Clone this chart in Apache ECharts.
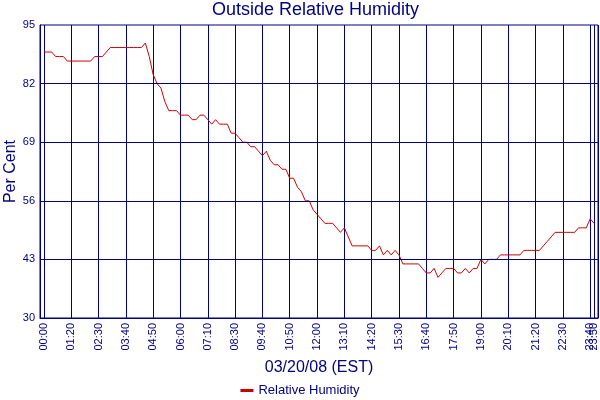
<!DOCTYPE html>
<html>
<head>
    <meta charset="UTF-8">
    <script src="https://cdn.jsdelivr.net/npm/echarts@6/dist/echarts.min.js"></script>
    <style>
        html, body { margin: 0; padding: 0; background: #fff; }
    </style>
</head>
<body>
<div id="main" style="width: 600px;height:400px;"></div>
<script>
    // labelled times, one every 7 samples, then the two extra end labels
    var tickTimes = ['00:00', '01:20', '02:30', '03:40', '04:50', '06:00', '07:10', '08:30',
        '09:40', '10:50', '12:00', '13:10', '14:20', '15:30', '16:40', '17:50',
        '19:00', '20:10', '21:20', '22:30', '23:40'];
    var endTimes = ['23:50', '23:59'];
    var samplesPerTick = 7;

    var yTicks = [30, 43, 56, 69, 82, 95];

    // relative humidity (%), one value per sample from 00:00 to 23:50
    var humidity = [
        89, 89, 89, 88, 88, 88, 87, 87, 87, 87, 87, 87, 87, 88, 88, 88,
        89, 90, 90, 90, 90, 90, 90, 90, 90, 90, 91, 88, 84, 82, 81, 78,
        76, 76, 76, 75, 75, 75, 74, 74, 75, 75, 74, 73, 74, 73, 73, 73,
        71, 71, 70, 69, 69, 68, 68, 67, 66, 67, 65, 64, 64, 63, 63, 61,
        61, 59, 58, 56, 56, 54, 53, 52, 51, 51, 51, 50, 49, 50, 48, 46,
        46, 46, 46, 46, 45, 45, 46, 44, 45, 44, 45, 44, 42, 42, 42, 42,
        42, 41, 40, 40, 41, 39, 40, 41, 41, 41, 40, 40, 41, 40, 41, 41,
        43, 42, 43, 43, 43, 44, 44, 44, 44, 44, 44, 45, 45, 45, 45, 45,
        46, 47, 48, 49, 49, 49, 49, 49, 49, 50, 50, 50, 52, 51
    ];

    // category list: a blank slot before 00:00, then every sample
    var categories = [''];
    for (var i = 0; i <= (tickTimes.length - 1) * samplesPerTick; i++) {
        categories.push(i % samplesPerTick === 0 ? tickTimes[i / samplesPerTick] : '');
    }
    categories = categories.concat(endTimes);

    var seriesData = [null].concat(humidity);

    var navy = '#000080';
    var showTick = function (index, value) {
        return value !== '';
    };

    var myChart = echarts.init(document.getElementById('main'));
    var option = {
        animation: false,
        textStyle: {fontFamily: 'Liberation Sans'},
        title: {
            text: 'Outside Relative Humidity',
            left: 212,
            top: 1,
            padding: 0,
            textStyle: {color: navy, fontSize: 18, fontWeight: 'normal', fontFamily: 'Liberation Sans'}
        },
        legend: {
            bottom: 3,
            left: 'center',
            padding: 0,
            icon: 'rect',
            itemWidth: 13,
            itemHeight: 3,
            itemGap: 4,
            textStyle: {color: navy, fontSize: 13, fontFamily: 'Liberation Sans'},
            data: ['Relative Humidity']
        },
        grid: {
            left: 40,
            right: 2,
            top: 25,
            bottom: 82,
            outerBoundsMode: 'none',
            show: true,
            borderColor: navy,
            borderWidth: 1
        },
        xAxis: {
            type: 'category',
            boundaryGap: false,
            data: categories,
            name: '03/20/08 (EST)',
            nameLocation: 'middle',
            nameGap: 42,
            nameTextStyle: {color: navy, fontSize: 16, fontFamily: 'Liberation Sans'},
            axisLine: {lineStyle: {color: navy}},
            axisTick: {show: false},
            axisLabel: {
                interval: showTick,
                rotate: 90,
                color: navy,
                fontSize: 11,
                margin: 5,
                fontFamily: 'Liberation Sans'
            },
            splitLine: {
                show: true,
                interval: showTick,
                lineStyle: {color: navy, width: 1}
            }
        },
        yAxis: {
            type: 'value',
            min: 30,
            max: 95,
            interval: 1,
            name: 'Per Cent',
            nameLocation: 'middle',
            nameGap: 21,
            nameMoveOverlap: false,
            nameTextStyle: {color: navy, fontSize: 16, fontFamily: 'Liberation Sans'},
            axisLine: {show: true, lineStyle: {color: navy}},
            axisTick: {show: false},
            splitLine: {show: false},
            axisLabel: {
                color: navy,
                fontSize: 11,
                margin: 5,
                fontFamily: 'Liberation Sans',
                formatter: function (v) {
                    return yTicks.indexOf(v) >= 0 ? String(v) : '';
                }
            }
        },
        series: [
            {
                name: 'Relative Humidity',
                type: 'line',
                data: seriesData,
                symbol: 'none',
                color: '#cc0000',
                lineStyle: {color: '#cc0000', width: 1},
                markLine: {
                    silent: true,
                    symbol: ['none', 'none'],
                    label: {show: false},
                    lineStyle: {color: navy, type: 'solid', width: 1},
                    data: yTicks.slice(1, -1).map(function (v) {
                        return {yAxis: v};
                    })
                }
            }
        ]
    };
    myChart.setOption(option);
</script>
</body>
</html>
